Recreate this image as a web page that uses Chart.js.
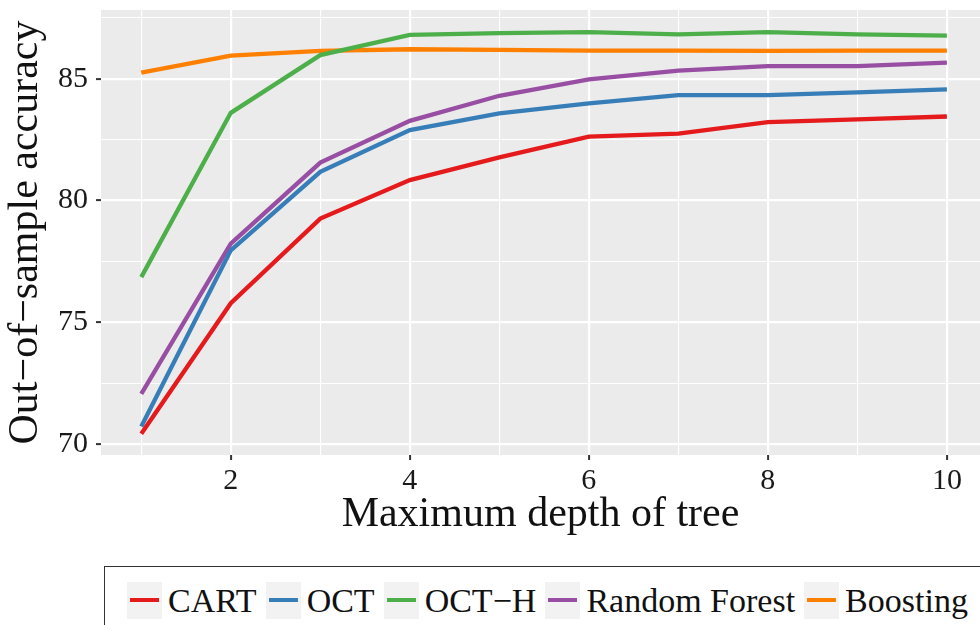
<!DOCTYPE html>
<html>
<head>
<meta charset="utf-8">
<script src="https://cdn.jsdelivr.net/npm/chart.js@4.4.0/dist/chart.umd.min.js"></script>
<style>
  html, body { margin:0; padding:0; background:#fff; }
  #wrap { position:relative; width:980px; height:625px; overflow:hidden; }
  #chart { position:absolute; left:0; top:0; }
  #legend {
    position:absolute; left:104px; top:566px; width:900px; height:80px;
    border:1.5px solid #333; box-sizing:border-box;
    display:flex; align-items:flex-start; padding:15px 0 0 22px;
    font-family:"Liberation Serif", "DejaVu Serif", serif; font-size:34px; color:#111;
  }
  .item { display:flex; align-items:center; margin-right:9px; line-height:37px; }
  .key { width:35px; height:37px; background:#f2f2f2; position:relative; margin-right:6px; }
  .key span { position:absolute; left:3px; right:3px; top:16px; height:4px; }
</style>
</head>
<body>
<div id="wrap">
  <canvas id="chart" width="980" height="560"></canvas>
  <div id="legend"></div>
</div>
<script>
// 데이터
const depths = [1, 2, 3, 4, 5, 6, 7, 8, 9, 10];
const cart     = [70.43, 75.79, 79.26, 80.84, 81.77, 82.62, 82.75, 83.22, 83.33, 83.45];
const oct      = [70.73, 77.96, 81.18, 82.89, 83.58, 83.99, 84.33, 84.33, 84.44, 84.56];
const octH     = [76.86, 83.60, 85.97, 86.80, 86.87, 86.91, 86.82, 86.91, 86.82, 86.77];
const rforest  = [72.07, 78.23, 81.56, 83.27, 84.30, 84.97, 85.33, 85.52, 85.52, 85.66];
const boosting = [85.25, 85.95, 86.14, 86.21, 86.18, 86.15, 86.15, 86.14, 86.15, 86.15];

const seriesNames = ['CART', 'OCT', 'OCT\u2212H', 'Random Forest', 'Boosting'];
const seriesColors = ['#E41A1C', '#377EB8', '#4DAF4A', '#984EA3', '#FF7F00'];
const seriesValues = [cart, oct, octH, rforest, boosting];

const xMajor = [2, 4, 6, 8, 10];
const xMinor = [1, 3, 5, 7, 9];
const yMajor = [70, 75, 80, 85];
const yMinor = [72.5, 77.5, 82.5, 87.5];

const serif = '"Liberation Serif", "DejaVu Serif", serif';

/* ====== 패널 배경 ====== */
const panelBg = {
  id: 'panelBg',
  beforeDraw(chart){
    const {ctx, chartArea:a} = chart;
    ctx.save();
    ctx.fillStyle = '#EBEBEB';
    ctx.fillRect(a.left, a.top, a.right - a.left, a.bottom - a.top);
    ctx.restore();
  }
};

const isMajor = (list, v) => list.some(m => Math.abs(m - v) < 1e-6);

new Chart(document.getElementById('chart'), {
  type: 'line',
  data: {
    datasets: seriesNames.map((name, i) => ({
      label: name,
      data: depths.map((d, j) => ({x: d, y: seriesValues[i][j]})),
      borderColor: seriesColors[i],
      backgroundColor: seriesColors[i],
      borderWidth: 4.3,
      pointRadius: 0,
      tension: 0,
      fill: false
    }))
  },
  options: {
    responsive: false,
    animation: false,
    layout: { padding: { top: 10, right: 0, left: 0, bottom: 0 } },
    plugins: { legend: { display: false }, tooltip: { enabled: false } },
    scales: {
      x: {
        type: 'linear', min: 0.55, max: 10.37,
        afterBuildTicks: s => { s.ticks = [...xMinor, ...xMajor].sort((a,b)=>a-b).map(v => ({value: v})); },
        afterFit: s => { s.height = 105; s.paddingLeft = 0; s.paddingRight = 0; },
        border: { display: false },
        grid: {
          color: '#ffffff',
          lineWidth: c => isMajor(xMajor, c.tick.value) ? 2.2 : 1.1,
          tickColor: c => isMajor(xMajor, c.tick.value) ? '#333333' : 'rgba(0,0,0,0)',
          tickLength: 5,
          tickWidth: 2
        },
        ticks: {
          autoSkip: false, maxRotation: 0, padding: 3,
          color: '#1a1a1a',
          font: { family: serif, size: 30 },
          callback: v => isMajor(xMajor, v) ? String(v) : ''
        },
        title: {
          display: true, text: 'Maximum depth of tree', color: '#111',
          font: { family: serif, size: 42 },
          padding: { top: 0, bottom: 20 }
        }
      },
      y: {
        type: 'linear', min: 69.56, max: 87.82,
        afterBuildTicks: s => { s.ticks = [...yMajor, ...yMinor].sort((a,b)=>a-b).map(v => ({value: v})); },
        afterFit: s => { s.width = 101; s.paddingTop = 0; s.paddingBottom = 0; },
        border: { display: false },
        grid: {
          color: '#ffffff',
          lineWidth: c => isMajor(yMajor, c.tick.value) ? 2.2 : 1.1,
          tickColor: c => isMajor(yMajor, c.tick.value) ? '#333333' : 'rgba(0,0,0,0)',
          tickLength: 5,
          tickWidth: 2
        },
        ticks: {
          autoSkip: false, padding: 8,
          color: '#1a1a1a',
          font: { family: serif, size: 30 },
          callback: v => isMajor(yMajor, v) ? String(v) : ''
        },
        title: {
          display: true, text: 'Out\u2212of\u2212sample accuracy', color: '#111',
          font: { family: serif, size: 42 },
          padding: { top: 1, bottom: 0 }
        }
      }
    }
  },
  plugins: [panelBg]
});

/* ====== 범례 ====== */
const legendEl = document.getElementById('legend');
seriesNames.forEach((name, i) => {
  const item = document.createElement('div');
  item.className = 'item';
  item.innerHTML = `<div class="key"><span style="background:${seriesColors[i]}"></span></div><div>${name}</div>`;
  legendEl.appendChild(item);
});
</script>
</body>
</html>
